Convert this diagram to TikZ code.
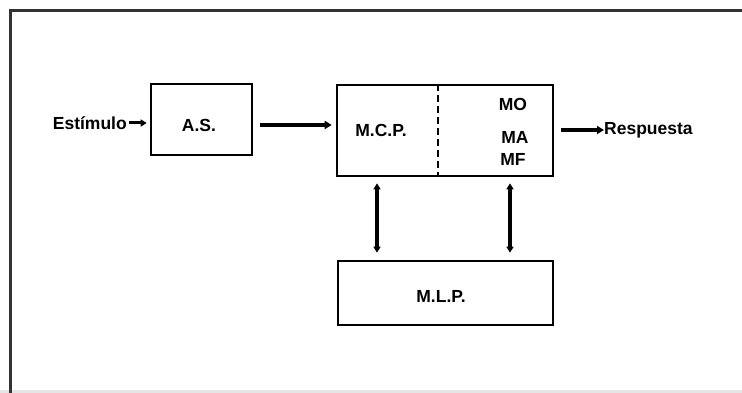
\documentclass[tikz,border=0pt]{standalone}
\usepackage{fontspec}
\setmainfont{Liberation Sans}
\usetikzlibrary{arrows.meta}
\begin{document}
\begin{tikzpicture}[x=1pt,y=-1pt,
  box/.style={draw, line width=2.6pt, inner sep=0pt},
  lbl/.style={font=\fontsize{17.5}{17.5}\selectfont\bfseries, inner sep=0pt},
  arr/.style={line width=3.2pt, -{Triangle[length=7pt,width=8pt]}},
  darr/.style={line width=3.2pt, {Triangle[length=6pt,width=7pt]}-{Triangle[length=6pt,width=7pt]}}]
\useasboundingbox (0,0) rectangle (742,393);
\fill[black!10] (0,390) rectangle (742,393);
\draw[line width=3.5pt, black!80] (10.5,393) -- (10.5,10.5) -- (742,10.5);
% boxes
\node[box, minimum width=101pt, minimum height=71pt] (as) at (201.5,119.5) {};
\node[lbl] (astext) at (199,125) {A.S.};
\node[box, minimum width=216pt, minimum height=91pt] (mcp) at (445,130.5) {};
\node[box, minimum width=215pt, minimum height=64pt] (mlp) at (445.5,293) {};
\node[lbl] (mlptext) at (441,296) {M.L.P.};
\coordinate (dx) at (438,0);
\draw[line width=2.6pt, dash pattern=on 7pt off 4pt] (dx |- mcp.north) -- (dx |- mcp.south);
\node[lbl] (mcptext) at (381,130) {M.C.P.};
\node[lbl] (mo) at (513,104) {MO};
\node[lbl] (ma) at (515,137) {MA};
\node[lbl] (mf) at (513,159) {MF};
% labels
\node[lbl, anchor=east] (est) at (127,123) {Estímulo};
\node[lbl, anchor=west] (resp) at (604,130) {Respuesta};
% arrows
\draw[line width=3pt, -{Triangle[length=6pt,width=7pt]}] ([xshift=2pt]est.east) -- ([xshift=-3pt]est.east -| as.west);
\coordinate (a0) at (260,125);
\draw[arr] (a0) -- ([xshift=-4pt]a0 -| mcp.west);
\draw[arr] ([xshift=7pt]resp.west -| mcp.east) -- (resp.west);
\coordinate (c1) at (377,0);
\coordinate (c2) at (510,0);
\draw[darr] ([yshift=-6pt]c1 |- mcp.south) -- ([yshift=7pt]c1 |- mlp.north);
\draw[darr] ([yshift=-6pt]c2 |- mcp.south) -- ([yshift=7pt]c2 |- mlp.north);
\end{tikzpicture}
\end{document}
